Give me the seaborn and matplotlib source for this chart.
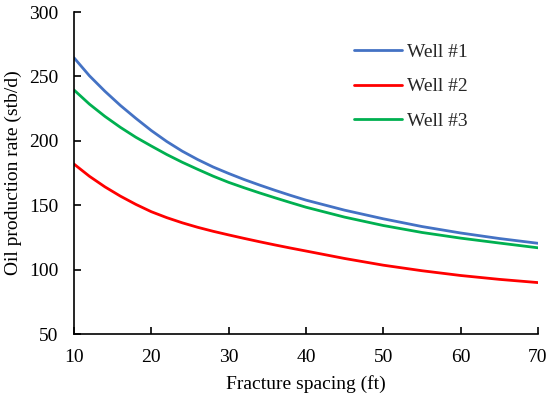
import pandas as pd
import matplotlib
matplotlib.use("Agg")
import matplotlib.pyplot as plt
import seaborn as sns

# Values
spacing = [10, 12, 14, 16, 18, 20, 22, 24, 26, 28, 30, 32, 34, 36, 38, 40,
           45, 50, 55, 60, 65, 70]
well1 = [264.5, 250.5, 238.5, 227.5, 217.5, 208, 199.5, 192, 185.5, 179.7, 174.7,
         170, 165.7, 161.6, 157.7, 154, 146.2, 139.5, 133.5, 128.5, 124.2, 120.5]
well2 = [182, 172.5, 164.3, 157.1, 150.7, 145, 140.4, 136.4, 132.9, 129.8, 127,
         124.3, 121.7, 119.2, 116.8, 114.5, 108.7, 103.5, 99.2, 95.5, 92.5, 90]
well3 = [239.5, 228.5, 219, 210.5, 202.8, 196, 189.4, 183.4, 177.9, 172.6, 167.8,
         163.6, 159.6, 155.8, 152.1, 148.5, 140.8, 134.3, 128.9, 124.5, 120.7, 117]
wells = ["Well #1", "Well #2", "Well #3"]
colors = ["#4472C4", "#FF0000", "#00B050"]

rows = []
for name, vals in zip(wells, [well1, well2, well3]):
    for x, y in zip(spacing, vals):
        rows.append({"spacing": x, "rate": y, "well": name})
df = pd.DataFrame(rows)

sns.set_style("ticks")
plt.rcParams["font.family"] = ["Liberation Serif", "DejaVu Serif"]

fig = plt.figure(figsize=(5.5, 3.94), dpi=100)
ax = fig.add_axes([0.1345, 0.152, 0.8435, 0.8175])

sns.lineplot(data=df, x="spacing", y="rate", hue="well", hue_order=wells,
             palette=colors, linewidth=2.0, ax=ax)

ax.set_xlim(10, 70)
ax.set_ylim(50, 300)
ax.set_xticks(range(10, 71, 10))
ax.set_yticks(range(50, 301, 50))
ax.set_xlabel("Fracture spacing (ft)", fontsize=14, color="black", labelpad=6)
ax.set_ylabel("Oil production rate (stb/d)", fontsize=14, color="black", labelpad=5)
ax.tick_params(direction="in", length=5, width=1.2, labelsize=14,
               colors="black", pad=11)
sns.despine(ax=ax)
for s in ["left", "bottom"]:
    ax.spines[s].set_linewidth(1.2)
    ax.spines[s].set_color("black")

ax.legend(title=None, frameon=False, fontsize=14, loc="upper left",
          bbox_to_anchor=(0.565, 0.957), handlelength=2.5,
          handletextpad=0.26, labelspacing=0.86)

fig.savefig("out.png", dpi=100)
